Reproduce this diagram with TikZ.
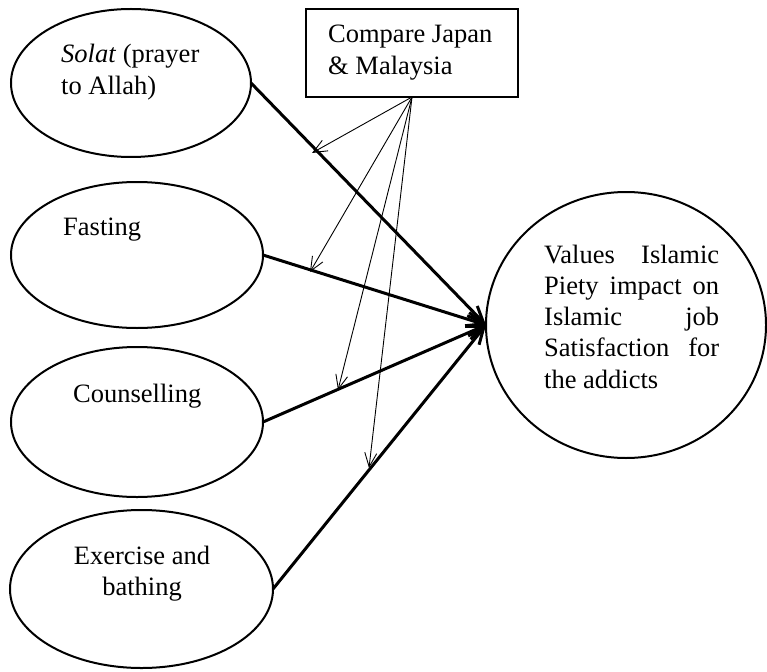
\documentclass[tikz,border=0pt]{standalone}
\usepackage{fontspec}
\setmainfont{Liberation Serif}
\usetikzlibrary{shapes.geometric,arrows.meta}
\begin{document}
\begin{tikzpicture}[x=1pt,y=-1pt,
  bub/.style={draw, ellipse, line width=2pt, inner sep=0pt, outer sep=0pt},
  lbl/.style={inner sep=0pt, anchor=base west, font=\fontsize{26.5}{31.25}\selectfont},
  clbl/.style={inner sep=0pt, anchor=base, font=\fontsize{26.5}{31.25}\selectfont},
  mainarrow/.style={line width=3pt, -{Straight Barb[length=16pt, width=14pt, line width=3pt]}},
  fanarrow/.style={line width=0.9pt, -{Straight Barb[length=14pt, width=12pt, line width=0.9pt]}}]
\useasboundingbox (0,0) rectangle (767,671);
% ellipses
\node[bub, minimum width=240pt, minimum height=148pt] (e1) at (131,83) {};
\node[bub, minimum width=252pt, minimum height=146pt] (e2) at (137,255) {};
\node[bub, minimum width=252pt, minimum height=150pt] (e3) at (137,422) {};
\node[bub, minimum width=263pt, minimum height=158pt] (e4) at (141.5,589) {};
\node[bub, minimum width=280pt, minimum height=266pt] (v) at (626,325) {};
% box
\node[draw, line width=2.3pt, inner sep=0pt, outer sep=0pt, minimum width=212pt, minimum height=88pt] (cmp) at (412,53) {};
% texts
\node[lbl] (t1) at (61,63) {\parbox[t]{200pt}{\textit{Solat} (prayer\\[0.75pt]to Allah)}};
\node[lbl] (t2) at (63,235) {Fasting};
\node[lbl] (t3) at (73,402) {Counselling};
\node[clbl] (t4) at (142,564) {\parbox[t]{200pt}{\centering Exercise and\\bathing}};
\node[lbl] (tc) at (328,43) {\parbox[t]{200pt}{Compare Japan\\\& Malaysia}};
\node[lbl] (tv) at (544,263) {\parbox[t]{175pt}{\makebox[175pt][s]{Values Islamic}\\\makebox[175pt][s]{Piety impact on}\\\makebox[175pt][s]{Islamic job}\\\makebox[175pt][s]{Satisfaction for}\\the addicts}};
% main arrows
\draw[mainarrow] (e1.east) -- (v.west);
\draw[mainarrow] (e2.east) -- (v.west);
\draw[mainarrow] (e3.east) -- (v.west);
\draw[mainarrow] (e4.east) -- (v.west);
% fan arrows
\coordinate (f1) at (312,153);
\coordinate (f2) at (310,272);
\coordinate (f3) at (338,390);
\coordinate (f4) at (369,468);
\draw[fanarrow] (cmp.south) -- (f1);
\draw[fanarrow] (cmp.south) -- (f2);
\draw[fanarrow] (cmp.south) -- (f3);
\draw[fanarrow] (cmp.south) -- (f4);
\end{tikzpicture}
\end{document}
